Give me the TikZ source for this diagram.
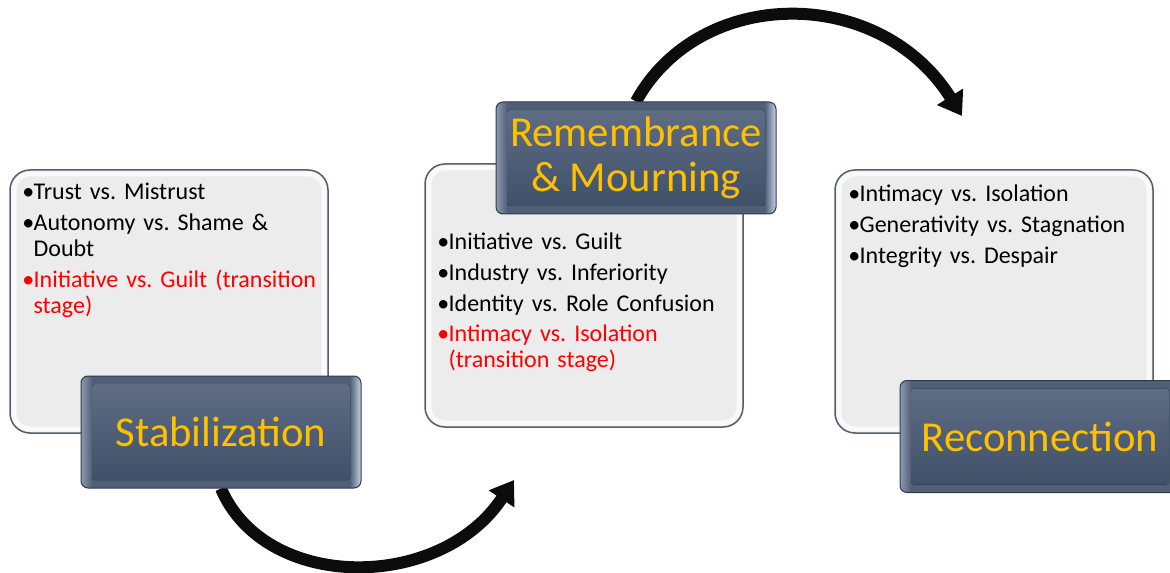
\documentclass[tikz,border=0pt]{standalone}
\usepackage{fontspec}
\setmainfont{Carlito}
\usepackage{xcolor}
\usepackage{tikz}
\usetikzlibrary{arrows.meta,calc}

\definecolor{slateTop}{RGB}{96,111,134}
\definecolor{slateBot}{RGB}{62,78,103}
\definecolor{slateMid}{RGB}{80,95,118}
\definecolor{slateEdgeL}{RGB}{140,155,178}
\definecolor{slateEdgeR}{RGB}{196,210,228}
\definecolor{slateLine}{RGB}{48,58,74}
\definecolor{titleGold}{RGB}{255,192,0}
\definecolor{panelFill}{RGB}{236,236,236}
\definecolor{panelLine}{RGB}{84,94,110}
\definecolor{arrowInk}{RGB}{12,12,12}

% one screen pixel
\newdimen\px \px=0.75pt

\pgfdeclarehorizontalshading{titleedge}{100bp}{color(0bp)=(slateEdgeL); color(25bp)=(slateEdgeL);
  color(27bp)=(slateMid); color(73bp)=(slateMid); color(75bp)=(slateEdgeR); color(100bp)=(slateEdgeR)}

\pgfdeclarelayer{back}
\pgfsetlayers{back,main}

\newcommand\stagebullet{\makebox[8.5pt][l]{•}}
\newcommand\stageindent{\hspace*{8.5pt}}

\frenchspacing

\begin{document}
\begin{tikzpicture}[
  x=0.75pt, y=-0.75pt,
  panel/.style={rectangle, rounded corners=20\px, draw=panelLine, line width=1.5\px, fill=panelFill,
    minimum width=318\px, minimum height=263\px,
    path picture={\draw[white, line width=5\px, opacity=0.75, rounded corners=16\px]
      ($(path picture bounding box.north west)+(4,4)$) rectangle ($(path picture bounding box.south east)+(-4,-4)$);}},
  titlebox/.style={rectangle, rounded corners=7\px, draw=slateLine, line width=1\px, shading=titleedge,
    minimum width=280\px, minimum height=112\px, inner sep=0pt, align=center, text=titleGold,
    font=\fontsize{32}{34}\selectfont,
    path picture={\fill[top color=slateTop, bottom color=slateBot, rounded corners=3\px]
      ($(path picture bounding box.north west)+(11,8)$) rectangle ($(path picture bounding box.south east)+(-11,-8)$);}},
  stages/.style={anchor=base west, text width=300\px, align=left, inner sep=0pt,
    font=\fontsize{18}{19.5}\selectfont},
  arrow/.style={-{Triangle[length=17pt, width=22pt]}, line width=9pt, draw=arrowInk}
]
  \useasboundingbox (0,0) rectangle (1170,573);

  % first phase
  \node[panel] (p1) at (169,301.5) {};
  \node[stages] (l1) at (22,200) {\stagebullet Trust vs. Mistrust\\[3.5pt]
    \stagebullet Autonomy vs. Shame \&\\
    \stageindent Doubt\\[3.5pt]
    \textcolor{red}{\stagebullet Initiative vs. Guilt (transition}\\
    \textcolor{red}{\stageindent stage)}};
  \node[titlebox] (stab) at (221,432) {Stabilization};

  % second phase
  \node[panel] (p2) at (584,295.5) {};
  \node[titlebox] (rem) at (636,158) {Remembrance\\\& Mourning};
  \node[stages] (l2) at (437,250) {\stagebullet Initiative vs. Guilt\\[3.5pt]
    \stagebullet Industry vs. Inferiority\\[3.5pt]
    \stagebullet Identity vs. Role Confusion\\[3.5pt]
    \textcolor{red}{\stagebullet Intimacy vs. Isolation}\\
    \textcolor{red}{\stageindent (transition stage)}};

  % third phase
  \node[panel] (p3) at (994,301.5) {};
  \node[stages] (l3) at (848,202) {\stagebullet Intimacy vs. Isolation\\[3.5pt]
    \stagebullet Generativity vs. Stagnation\\[3.5pt]
    \stagebullet Integrity vs. Despair};
  \node[titlebox] (recon) at (1040,436.5) {Reconnection};

  \coordinate (tipA) at (514,480);
  \coordinate (tipB) at (962,116);

  \begin{pgfonlayer}{back}
    \draw[arrow] (stab.south) .. controls (265,592) and (440,592) .. (tipA);
    \draw[arrow] (rem.north) .. controls (700,-15) and (880,-15) .. (tipB);
  \end{pgfonlayer}
\end{tikzpicture}
\end{document}
